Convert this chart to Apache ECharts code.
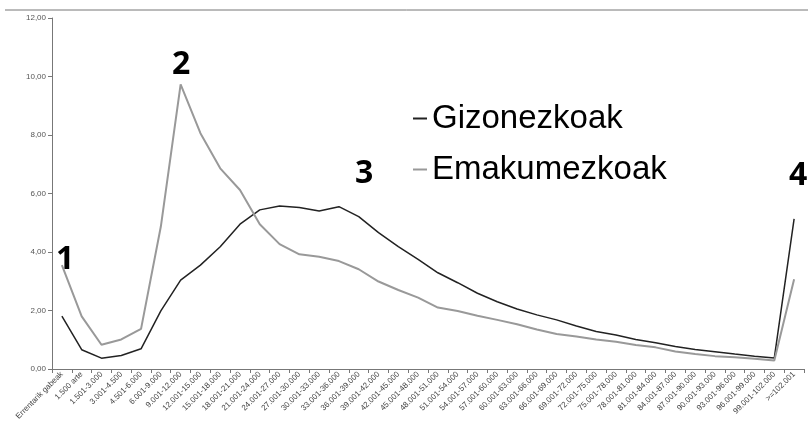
<!DOCTYPE html>
<html>
<head>
<meta charset="utf-8">
<script src="https://cdn.jsdelivr.net/npm/echarts@6/dist/echarts.min.js"></script>
<style>
  html, body { margin: 0; padding: 0; background: #fff; }
  #chart { width: 808px; height: 429px; }
</style>
</head>
<body>
<div id="chart"></div>
<script>
// tarteak (errenta mailak)
var categories = ['Errentarik gabeak', '1.500 arte', '1.501-3.000', '3.001-4.500', '4.501-6.000',
    '6.001-9.000', '9.001-12.000', '12.001-15.000', '15.001-18.000', '18.001-21.000',
    '21.001-24.000', '24.001-27.000', '27.001-30.000', '30.001-33.000', '33.001-36.000',
    '36.001-39.000', '39.001-42.000', '42.001-45.000', '45.001-48.000', '48.001-51.000',
    '51.001-54.000', '54.001-57.000', '57.001-60.000', '60.001-63.000', '63.001-66.000',
    '66.001-69.000', '69.001-72.000', '72.001-75.000', '75.001-78.000', '78.001-81.000',
    '81.001-84.000', '84.001-87.000', '87.001-90.000', '90.001-93.000', '93.001-96.000',
    '96.001-99.000', '99.001-102.000', '>=102.001'];

var gizonezkoak = [1.81, 0.66, 0.37, 0.46, 0.69, 1.99, 3.04, 3.55, 4.18, 4.95,
    5.44, 5.57, 5.52, 5.40, 5.55, 5.21, 4.66, 4.18, 3.75, 3.29,
    2.95, 2.59, 2.30, 2.05, 1.85, 1.68, 1.47, 1.28, 1.16, 1.01,
    0.90, 0.77, 0.67, 0.59, 0.51, 0.44, 0.38, 5.13];

var emakumezkoak = [3.55, 1.80, 0.83, 1.01, 1.37, 4.87, 9.73, 8.06, 6.86, 6.12,
    4.95, 4.27, 3.92, 3.84, 3.69, 3.41, 2.99, 2.70, 2.44, 2.10,
    1.98, 1.82, 1.68, 1.53, 1.35, 1.20, 1.11, 1.01, 0.93, 0.82,
    0.74, 0.60, 0.51, 0.44, 0.40, 0.35, 0.29, 3.07];

var yTicks = [0, 2, 4, 6, 8, 10, 12];

var chart = echarts.init(document.getElementById('chart'));
var option = {
    animation: false,
    grid: { left: 52, right: 4, top: 18, bottom: 60 },
    legend: {
        orient: 'vertical',
        left: 408,
        top: 97,
        icon: 'rect',
        itemWidth: 14,
        itemHeight: 2,
        itemGap: 18,
        textStyle: { fontFamily: 'Liberation Sans', fontSize: 33, color: '#000' },
        data: ['Gizonezkoak', 'Emakumezkoak']
    },
    xAxis: {
        type: 'category',
        boundaryGap: true,
        data: categories,
        axisLine: { lineStyle: { color: '#777', width: 1 } },
        axisTick: { show: true, length: 4, lineStyle: { color: '#777' } },
        axisLabel: {
            interval: 0,
            rotate: 45,
            margin: 4,
            fontFamily: 'Liberation Sans',
            fontSize: 8,
            color: '#444'
        }
    },
    yAxis: {
        type: 'value',
        min: yTicks[0],
        max: yTicks[yTicks.length - 1],
        interval: 2,
        splitLine: { show: false },
        axisLine: { show: true, lineStyle: { color: '#777', width: 1 } },
        axisTick: { show: true, length: 4, lineStyle: { color: '#777' } },
        axisLabel: {
            margin: 6,
            fontFamily: 'Liberation Sans',
            fontSize: 8,
            color: '#555',
            formatter: function (v) { return v.toFixed(2).replace('.', ','); }
        }
    },
    series: [
        {
            name: 'Gizonezkoak',
            type: 'line',
            data: gizonezkoak,
            showSymbol: false,
            color: '#222',
            lineStyle: { color: '#222', width: 1.5 }
        },
        {
            name: 'Emakumezkoak',
            type: 'line',
            data: emakumezkoak,
            showSymbol: false,
            color: '#999',
            lineStyle: { color: '#999', width: 2 }
        }
    ],
    graphic: [
        // goiko marra
        { type: 'line', shape: { x1: 5, y1: 10, x2: 808, y2: 10 }, style: { stroke: '#777', lineWidth: 1 } },
        { type: 'text', left: 56, top: 244, style: { text: '1', font: 'bold 32px "Open Sans"', fill: '#000' } },
        { type: 'text', left: 172, top: 49, style: { text: '2', font: 'bold 32px "Open Sans"', fill: '#000' } },
        { type: 'text', left: 355, top: 158, style: { text: '3', font: 'bold 32px "Open Sans"', fill: '#000' } },
        { type: 'text', left: 789, top: 160, style: { text: '4', font: 'bold 32px "Open Sans"', fill: '#000' } }
    ]
};
chart.setOption(option);
</script>
</body>
</html>
